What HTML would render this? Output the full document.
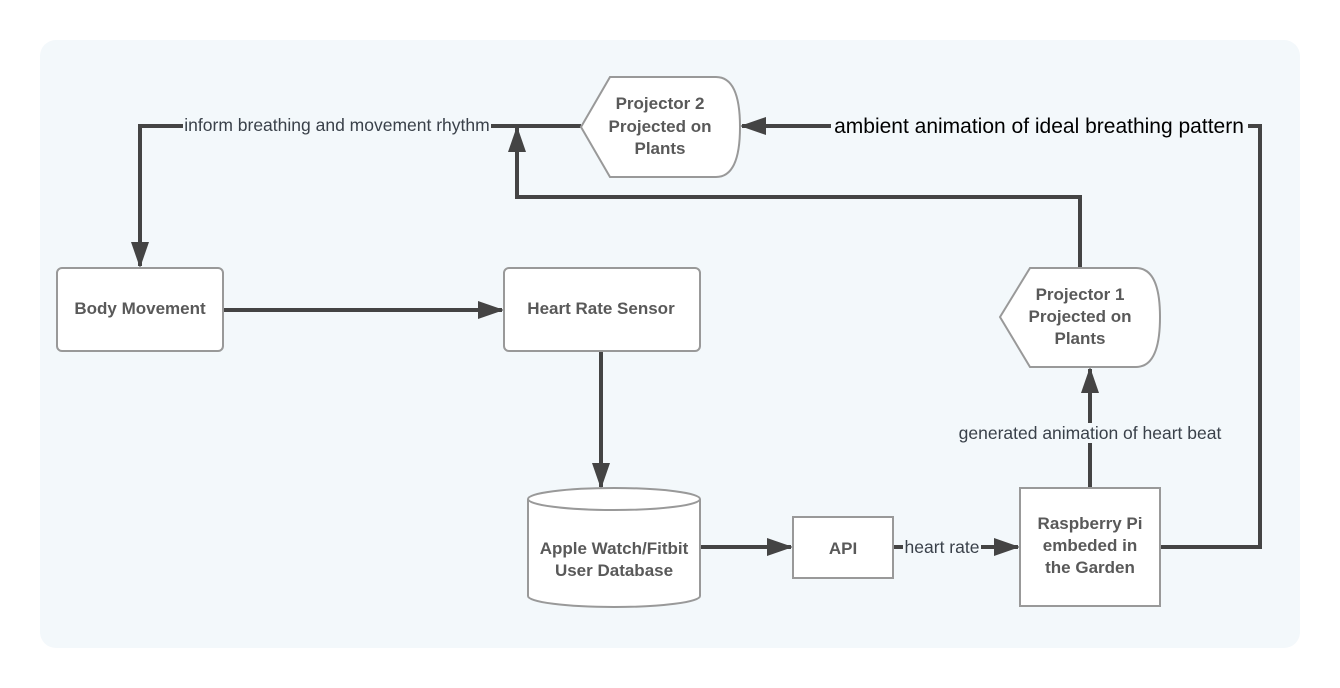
<!DOCTYPE html>
<html><head><meta charset="utf-8"><style>
html,body{margin:0;padding:0;background:#fff;width:1340px;height:688px;overflow:hidden}
svg{display:block}
.n{font-family:"Liberation Sans",sans-serif;font-weight:bold;font-size:17px;fill:#595959;text-anchor:middle}
.l{font-family:"Liberation Sans",sans-serif;font-size:17.5px;fill:#3a414a;text-anchor:middle}
.e{stroke:#444;stroke-width:4;fill:none}
.s{fill:#fff;stroke:#999;stroke-width:2}
.b{fill:#f3f8fb}
</style></head><body>
<svg width="1340" height="688" viewBox="0 0 1340 688" xmlns="http://www.w3.org/2000/svg">
<defs><marker id="a" markerWidth="26" markerHeight="18" refX="24" refY="9" orient="auto" markerUnits="userSpaceOnUse"><path d="M0,0 L26,9 L0,18 Z" fill="#444"/></marker></defs>
<rect x="40" y="40" width="1260" height="608" rx="16" fill="#f3f8fb"/>

<!-- edges -->
<path class="e" d="M581,126 H140 V266" marker-end="url(#a)"/>
<path class="e" d="M223,310 H502" marker-end="url(#a)"/>
<path class="e" d="M601,351 V487" marker-end="url(#a)"/>
<path class="e" d="M700,547 H791" marker-end="url(#a)"/>
<path class="e" d="M893,547 H1018" marker-end="url(#a)"/>
<path class="e" d="M1090,488 V369" marker-end="url(#a)"/>
<path class="e" d="M1080,268 V197 H517 V128" marker-end="url(#a)"/>
<path class="e" d="M1160,547 H1260 V126 H742" marker-end="url(#a)"/>

<!-- labels -->
<rect class="b" x="183" y="116" width="308" height="20"/>
<text class="l" x="337" y="131">inform breathing and movement rhythm</text>
<rect class="b" x="903" y="537" width="78" height="20"/>
<text class="l" x="942" y="553">heart rate</text>
<rect class="b" x="955" y="423" width="270" height="20"/>
<text class="l" x="1090" y="439">generated animation of heart beat</text>
<rect class="b" x="831" y="113" width="417" height="26"/>
<text x="1039" y="133" style="font-family:'Liberation Sans',sans-serif;font-size:21px;fill:#000;text-anchor:middle">ambient animation of ideal breathing pattern</text>

<!-- nodes -->
<path class="s" d="M581,127 L610,77 H716 Q740,77 740,127 Q740,177 716,177 H610 Z"/>
<text class="n" x="660" y="109">Projector 2</text>
<text class="n" x="660" y="132">Projected on</text>
<text class="n" x="660" y="154">Plants</text>

<path class="s" d="M1000,317 L1030,268 H1136 Q1160,268 1160,317 Q1160,367 1136,367 H1030 Z"/>
<text class="n" x="1080" y="300">Projector 1</text>
<text class="n" x="1080" y="322">Projected on</text>
<text class="n" x="1080" y="344">Plants</text>

<rect class="s" x="57" y="268" width="166" height="83" rx="5"/>
<text class="n" x="140" y="314">Body Movement</text>

<rect class="s" x="504" y="268" width="196" height="83" rx="5"/>
<text class="n" x="601" y="314">Heart Rate Sensor</text>

<path class="s" d="M528,499 A86,11 0 0 1 700,499 V596 A86,11 0 0 1 528,596 Z"/>
<path d="M528,499 A86,11 0 0 0 700,499" fill="none" stroke="#999" stroke-width="2"/>
<text class="n" x="614" y="554">Apple Watch/Fitbit</text>
<text class="n" x="614" y="576">User Database</text>

<rect class="s" x="793" y="517" width="100" height="61"/>
<text class="n" x="843" y="554">API</text>

<rect class="s" x="1020" y="488" width="140" height="118"/>
<text class="n" x="1090" y="529">Raspberry Pi</text>
<text class="n" x="1090" y="551">embeded in</text>
<text class="n" x="1090" y="573">the Garden</text>
</svg>
</body></html>
